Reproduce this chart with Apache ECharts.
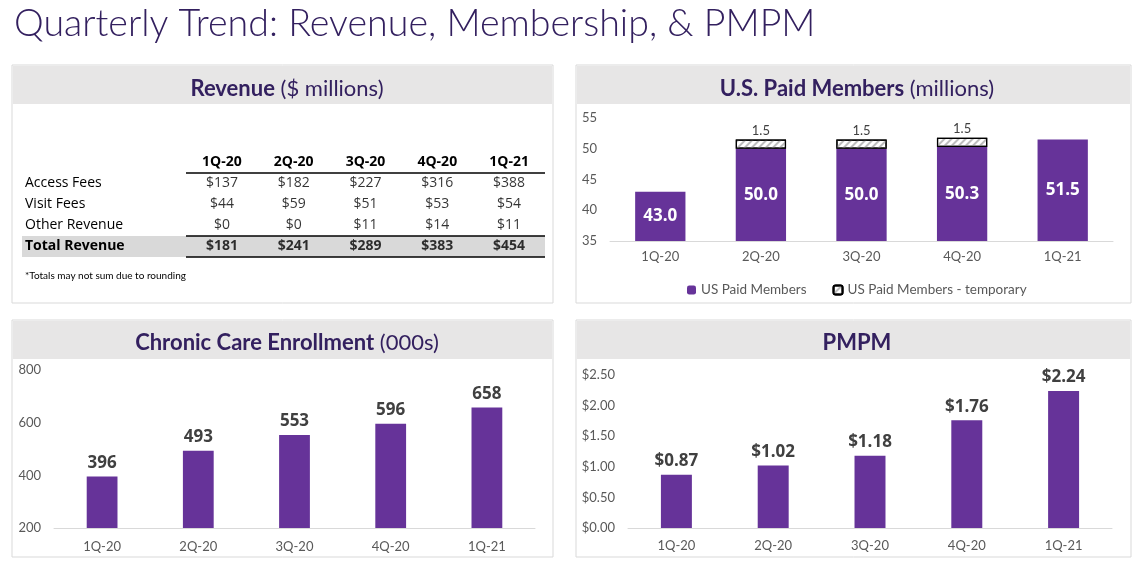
<!DOCTYPE html>
<html><head><meta charset="utf-8">
<script src="https://cdn.jsdelivr.net/npm/echarts@6/dist/echarts.min.js"></script>
<style>html,body{margin:0;padding:0;background:#fff}#c{width:1140px;height:566px}</style>
</head><body><div id="c"></div>
<script>
// ---- data ----
const quarters = ['1Q-20', '2Q-20', '3Q-20', '4Q-20', '1Q-21'];
const revenueRows = ['Access Fees', 'Visit Fees', 'Other Revenue', 'Total Revenue'];
const accessFees = [137, 182, 227, 316, 388];
const visitFees = [44, 59, 51, 53, 54];
const otherRevenue = [0, 0, 11, 14, 11];
const totalRevenue = [181, 241, 289, 383, 454];
const paidMembers = [43.0, 50.0, 50.0, 50.3, 51.5];
const tempMembers = [null, 1.5, 1.5, 1.5, null];
const chronicEnrollment = [396, 493, 553, 596, 658];
const pmpm = [0.87, 1.02, 1.18, 1.76, 2.24];
const seriesNames = ['US Paid Members', 'US Paid Members - temporary'];

// ---- styling ----
const PURPLE = '#663399';
const TITLE_C = '#33205f';
const AXIS_C = '#595959';
const LINE_C = '#d9d9d9';
const BAND_C = '#e7e6e6';
const GEO = 'Lato, "Noto Sans", sans-serif';
const BODY = '"Open Sans", "Noto Sans", sans-serif';

const tableRowsData = [accessFees, visitFees, otherRevenue, totalRevenue];
const tableData = [];
tableRowsData.forEach((row, r) => row.forEach((v, c) => tableData.push({
  value: [c, r, v],
  label: { fontWeight: r === 3 ? 'bold' : 'normal' }
})));

function panel(x, y, w, h) {
  return [
    { type: 'rect', z: -10, shape: { x: x, y: y, width: w, height: h }, style: { fill: '#fff', stroke: LINE_C, lineWidth: 1 } },
    { type: 'rect', z: -9, shape: { x: x + 1, y: y + 1, width: w - 2, height: 38 }, style: { fill: BAND_C } }
  ];
}

function panelTitle(cx, top, bold, rest) {
  return {
    left: cx, top: top, textAlign: 'center',
    text: '{b|' + bold + '}' + (rest ? '{r| ' + rest + '}' : ''),
    textStyle: {
      rich: {
        b: { fontFamily: GEO, fontWeight: 'bold', fontSize: 22, color: TITLE_C },
        r: { fontFamily: GEO, fontWeight: 'normal', fontSize: 22, color: TITLE_C }
      }
    }
  };
}

const catAxisLabel = { color: AXIS_C, fontFamily: GEO, fontSize: 13 };
const valAxisLabel = { color: AXIS_C, fontFamily: GEO, fontSize: 13, margin: 13 };

const option = {
  backgroundColor: '#fff',
  animation: false,
  graphic: [].concat(
    panel(12, 65, 541, 238),
    panel(576, 65, 555, 238),
    panel(12, 320, 541, 237),
    panel(576, 320, 555, 237),
    [{ type: 'text', z: 5, left: 25, top: 271, style: { text: '*Totals may not sum due to rounding', fill: '#000', font: '10px ' + GEO } }]
  ),
  title: [
    { left: 9, top: 0, text: 'Quarterly Trend: Revenue, Membership, & PMPM',
      textStyle: { fontFamily: GEO, fontWeight: 300, fontSize: 37.6, color: TITLE_C } },
    panelTitle(282, 73, 'Revenue', '($ millions)'),
    panelTitle(852, 73, 'U.S. Paid Members', '(millions)'),
    panelTitle(282, 327, 'Chronic Care Enrollment', '(000s)'),
    panelTitle(852, 327, 'PMPM', '')
  ],
  legend: {
    left: 682, top: 278, itemWidth: 9, itemHeight: 9, itemGap: 26,
    data: seriesNames,
    textStyle: { color: AXIS_C, fontFamily: GEO, fontSize: 13.5 }
  },
  grid: [
    { left: 22, top: 173, width: 164, height: 84 },   // table labels
    { left: 186, top: 173, width: 359, height: 84 },  // table values
    { left: 610, top: 118, width: 503, height: 123 }, // members
    { left: 54, top: 370, width: 481, height: 158 },  // chronic
    { left: 628, top: 375, width: 484, height: 153 }  // pmpm
  ],
  xAxis: [
    { gridIndex: 0, type: 'category', data: [''], show: false },
    { gridIndex: 1, type: 'category', data: quarters, position: 'top',
      axisLine: { show: false }, axisTick: { show: false },
      axisLabel: { color: '#000', fontFamily: BODY, fontWeight: 'bold', fontSize: 14, margin: 4 } },
    { gridIndex: 2, type: 'category', data: quarters,
      axisLine: { lineStyle: { color: LINE_C } }, axisTick: { show: false },
      axisLabel: Object.assign({ margin: 9 }, catAxisLabel) },
    { gridIndex: 3, type: 'category', data: quarters,
      axisLine: { lineStyle: { color: LINE_C } }, axisTick: { show: false },
      axisLabel: Object.assign({ margin: 12 }, catAxisLabel) },
    { gridIndex: 4, type: 'category', data: quarters,
      axisLine: { lineStyle: { color: LINE_C } }, axisTick: { show: false },
      axisLabel: Object.assign({ margin: 11 }, catAxisLabel) }
  ],
  yAxis: [
    { gridIndex: 0, type: 'category', data: revenueRows, inverse: true,
      axisLine: { show: false }, axisTick: { show: false },
      axisLabel: { inside: true, margin: 3, color: '#000', fontFamily: BODY, fontSize: 14,
        formatter: v => v === 'Total Revenue' ? '{b|' + v + '}' : v,
        rich: { b: { fontWeight: 'bold', fontFamily: BODY, fontSize: 14, color: '#000' } } },
      splitArea: { show: true, interval: 0, areaStyle: { color: ['rgba(0,0,0,0)', 'rgba(0,0,0,0)', 'rgba(0,0,0,0)', '#d9d9d9'] } } },
    { gridIndex: 1, type: 'category', data: revenueRows, inverse: true,
      axisLine: { show: false }, axisTick: { show: false }, axisLabel: { show: false },
      splitLine: { show: true, interval: (i) => i === 0 || i === 3, lineStyle: { color: '#000', width: 1.5 } },
      splitArea: { show: true, interval: 0, areaStyle: { color: ['rgba(0,0,0,0)', 'rgba(0,0,0,0)', 'rgba(0,0,0,0)', '#d9d9d9'] } } },
    { gridIndex: 2, type: 'value', min: 35, max: 55, interval: 5,
      axisLine: { show: false }, splitLine: { show: false }, axisLabel: valAxisLabel },
    { gridIndex: 3, type: 'value', min: 200, max: 800, interval: 200,
      axisLine: { show: false }, splitLine: { show: false }, axisLabel: valAxisLabel },
    { gridIndex: 4, type: 'value', min: 0, max: 2.5, interval: 0.5,
      axisLine: { show: false }, splitLine: { show: false },
      axisLabel: Object.assign({ formatter: v => '$' + v.toFixed(2) }, valAxisLabel) }
  ],
  series: [
    { type: 'scatter', xAxisIndex: 1, yAxisIndex: 1, data: tableData, symbolSize: 1,
      itemStyle: { color: 'rgba(0,0,0,0)' },
      label: { show: true, position: 'inside', color: '#000', fontFamily: BODY, fontSize: 14,
        formatter: p => '$' + p.value[2] } },
    { name: seriesNames[0], type: 'bar', xAxisIndex: 2, yAxisIndex: 2, stack: 'm', barWidth: '50%',
      data: paidMembers, itemStyle: { color: PURPLE },
      label: { show: true, position: 'inside', color: '#fff', fontFamily: BODY, fontWeight: 'bold', fontSize: 17,
        formatter: p => p.value.toFixed(1) } },
    { name: seriesNames[1], type: 'bar', xAxisIndex: 2, yAxisIndex: 2, stack: 'm', barWidth: '50%',
      data: tempMembers,
      itemStyle: { color: '#fff', borderColor: '#000', borderWidth: 1.2,
        decal: { symbol: 'rect', color: '#bdbdbd', dashArrayX: [1, 0], dashArrayY: [2, 3], rotation: -Math.PI / 4, symbolSize: 1 } },
      label: { show: true, position: 'top', distance: 2, color: '#404040', fontFamily: GEO, fontSize: 13,
        formatter: p => p.value == null ? '' : p.value.toFixed(1) } },
    { type: 'bar', xAxisIndex: 3, yAxisIndex: 3, barWidth: '32%', data: chronicEnrollment,
      itemStyle: { color: PURPLE },
      label: { show: true, position: 'top', distance: 5, color: '#404040', fontFamily: BODY, fontWeight: 'bold', fontSize: 17 } },
    { type: 'bar', xAxisIndex: 4, yAxisIndex: 4, barWidth: '32%', data: pmpm,
      itemStyle: { color: PURPLE },
      label: { show: true, position: 'top', distance: 5, color: '#404040', fontFamily: BODY, fontWeight: 'bold', fontSize: 17,
        formatter: p => '$' + p.value.toFixed(2) } }
  ]
};

const chart = echarts.init(document.getElementById('c'), null, { renderer: 'canvas' });
chart.setOption(option);
</script>
</body></html>
